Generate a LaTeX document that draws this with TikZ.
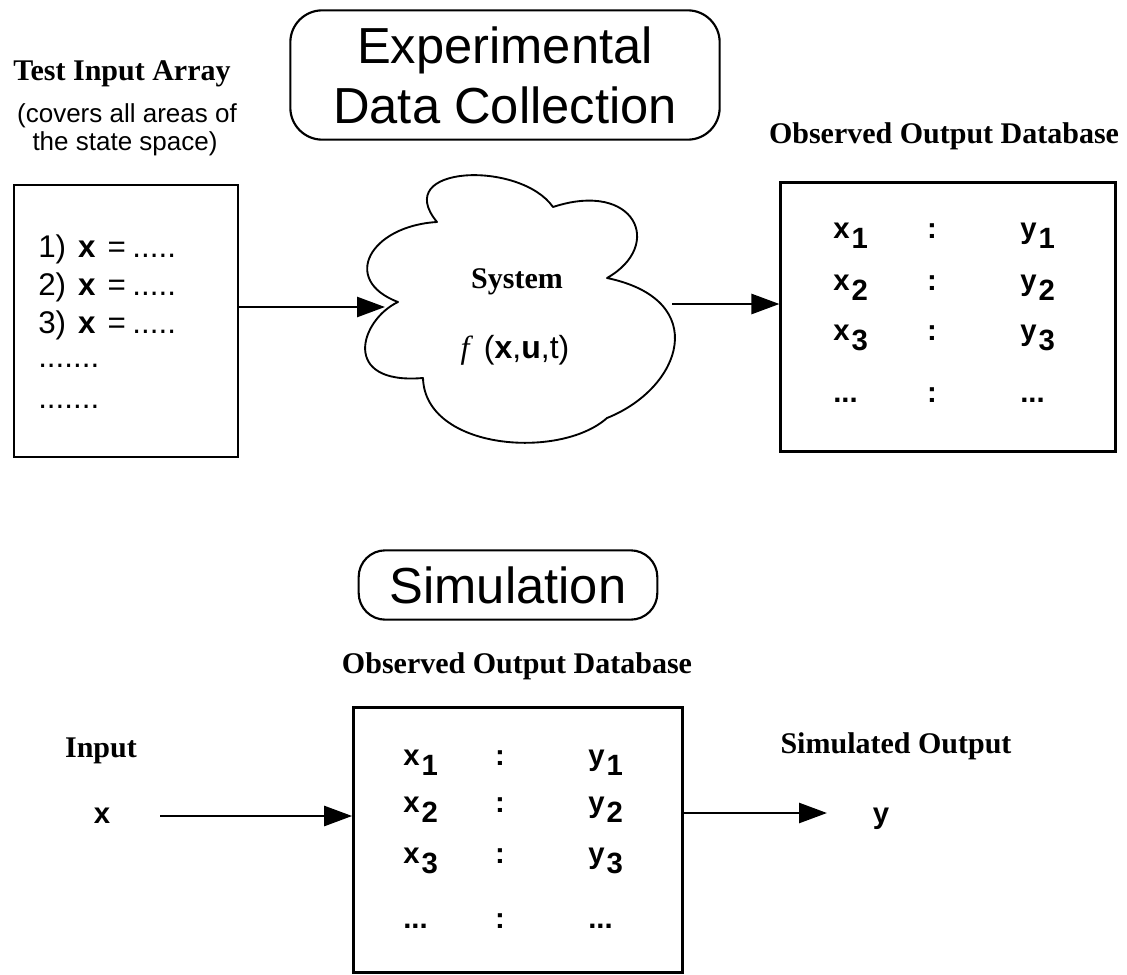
\documentclass[tikz,border=0pt]{standalone}
\usepackage{fontspec}
\setmainfont{Liberation Serif}
\setsansfont{Liberation Sans}
\usetikzlibrary{arrows.meta}

\newcommand{\lblfont}{\fontsize{22.5}{27}\selectfont\bfseries}
\newcommand{\cellfont}{\fontsize{22}{26}\selectfont\sffamily\bfseries}
\newcommand{\rowfont}{\fontsize{23.5}{28}\selectfont\sffamily}
\newcommand{\headfont}{\fontsize{38}{45}\selectfont\sffamily}
\newcommand{\subidx}[1]{\kern1.5pt\raisebox{-8pt}{#1}}

\tikzset{
  frame/.style={draw, line width=1.8pt, inner sep=0pt},
  headbox/.style={draw, line width=1.6pt, rounded corners=24pt, align=center, font=\headfont},
  lbl/.style={font=\lblfont, inner sep=0pt, anchor=base},
  cell/.style={font=\cellfont, inner sep=0pt},
  flow/.style={-{Triangle[length=21pt,width=15pt]}, line width=2pt}
}

\begin{document}
\begin{tikzpicture}[x=0.75pt,y=-0.75pt]
  \useasboundingbox (0,0) rectangle (1127,974);

  % headings
  \node[headbox, minimum width=322pt, minimum height=97pt] (expbox) at (505,75) {Experimental\\Data Collection};
  \node[headbox, minimum width=224pt, minimum height=52pt, rounded corners=20pt] (simbox) at (508,585) {Simulation};

  % labels
  \node[lbl] (testlbl) at (122,80) {Test Input Array};
  \node[font=\fontsize{19.5}{23}\selectfont\sffamily, inner sep=0pt, anchor=base] (coverlbl1) at (127,122) {(covers all areas of};
  \node[font=\fontsize{19.5}{23}\selectfont\sffamily, inner sep=0pt, anchor=base] (coverlbl2) at (125,150) {the state space)};
  \node[lbl] (outlbl) at (944,143) {Observed Output Database};
  \node[lbl] (dblbl) at (517,673) {Observed Output Database};
  \node[lbl] (inlbl) at (101,757) {Input};
  \node[lbl] (simlbl) at (896,753) {Simulated Output};

  % boxes
  \node[frame, minimum width=168pt, minimum height=204pt] (inbox) at (126,321) {};
  \node[frame, minimum width=251pt, minimum height=202pt] (outbox) at (948,317) {};
  \node[frame, minimum width=247pt, minimum height=199pt] (dbbox) at (518,840) {};

  % test inputs
  \foreach \i/\yy in {1/257,2/295,3/333}
    \node[font=\rowfont, inner sep=0pt, anchor=base west] (tin\i) at (38,\yy)
      {\i)\hspace{9pt}\textbf{x}\hspace{9pt}=\hspace{5pt}.....};
  \foreach \i/\yy in {4/367,5/408}
    \node[font=\rowfont, inner sep=0pt, anchor=base west] (tin\i) at (38,\yy) {.......};

  % system
  \draw[line width=1.4pt, line join=round]
    (437,222) .. controls (370,226) and (340,280) .. (398,302)
    .. controls (360,320) and (340,385) .. (423,378)
    .. controls (425,450) and (560,460) .. (607,418)
    .. controls (682,388) and (712,300) .. (607,278)
    .. controls (665,245) and (635,180) .. (553,207)
    .. controls (520,160) and (390,165) .. (437,222) -- cycle;
  \node[lbl, anchor=center] (sys) at (517,282) {System};
  \node[font=\fontsize{24}{28}\selectfont, inner sep=0pt] (sysfn) at (515,350)
    {\textit{f}\,\,\sffamily(\textbf{x},\textbf{u},t)};

  \coordinate (sysin) at (385,307);
  \coordinate (sysout) at (672,304);
  \draw[flow] (inbox.east |- sysin) -- (sysin);
  \draw[flow] (sysout) -- (sysout -| outbox.west);

  % observed outputs
  \foreach \i/\yy in {1/238,2/290,3/340}{
    \node[cell, anchor=base west] (ox\i) at (833,\yy) {x\subidx{\i}};
    \node[cell, anchor=base] (oc\i) at (932,\yy) {:};
    \node[cell, anchor=base west] (oy\i) at (1020,\yy) {y\subidx{\i}};
  }
  \node[cell, anchor=base west] (ox4) at (833,402) {...};
  \node[cell, anchor=base] (oc4) at (932,402) {:};
  \node[cell, anchor=base west] (oy4) at (1020,402) {...};

  % simulation database
  \foreach \i/\yy in {1/765,2/812,3/863}{
    \node[cell, anchor=base west] (dx\i) at (403,\yy) {x\subidx{\i}};
    \node[cell, anchor=base] (dc\i) at (500,\yy) {:};
    \node[cell, anchor=base west] (dy\i) at (588,\yy) {y\subidx{\i}};
  }
  \node[cell, anchor=base west] (dx4) at (403,928) {...};
  \node[cell, anchor=base] (dc4) at (500,928) {:};
  \node[cell, anchor=base west] (dy4) at (588,928) {...};

  \node[cell, anchor=base] (xin) at (102,823) {x};
  \node[cell, anchor=base] (yout) at (881,823) {y};
  \coordinate (xsrc) at (160,816);
  \coordinate (ydst) at (827,813);
  \draw[flow] (xsrc) -- (xsrc -| dbbox.west);
  \draw[flow] (ydst -| dbbox.east) -- (ydst);
\end{tikzpicture}
\end{document}
